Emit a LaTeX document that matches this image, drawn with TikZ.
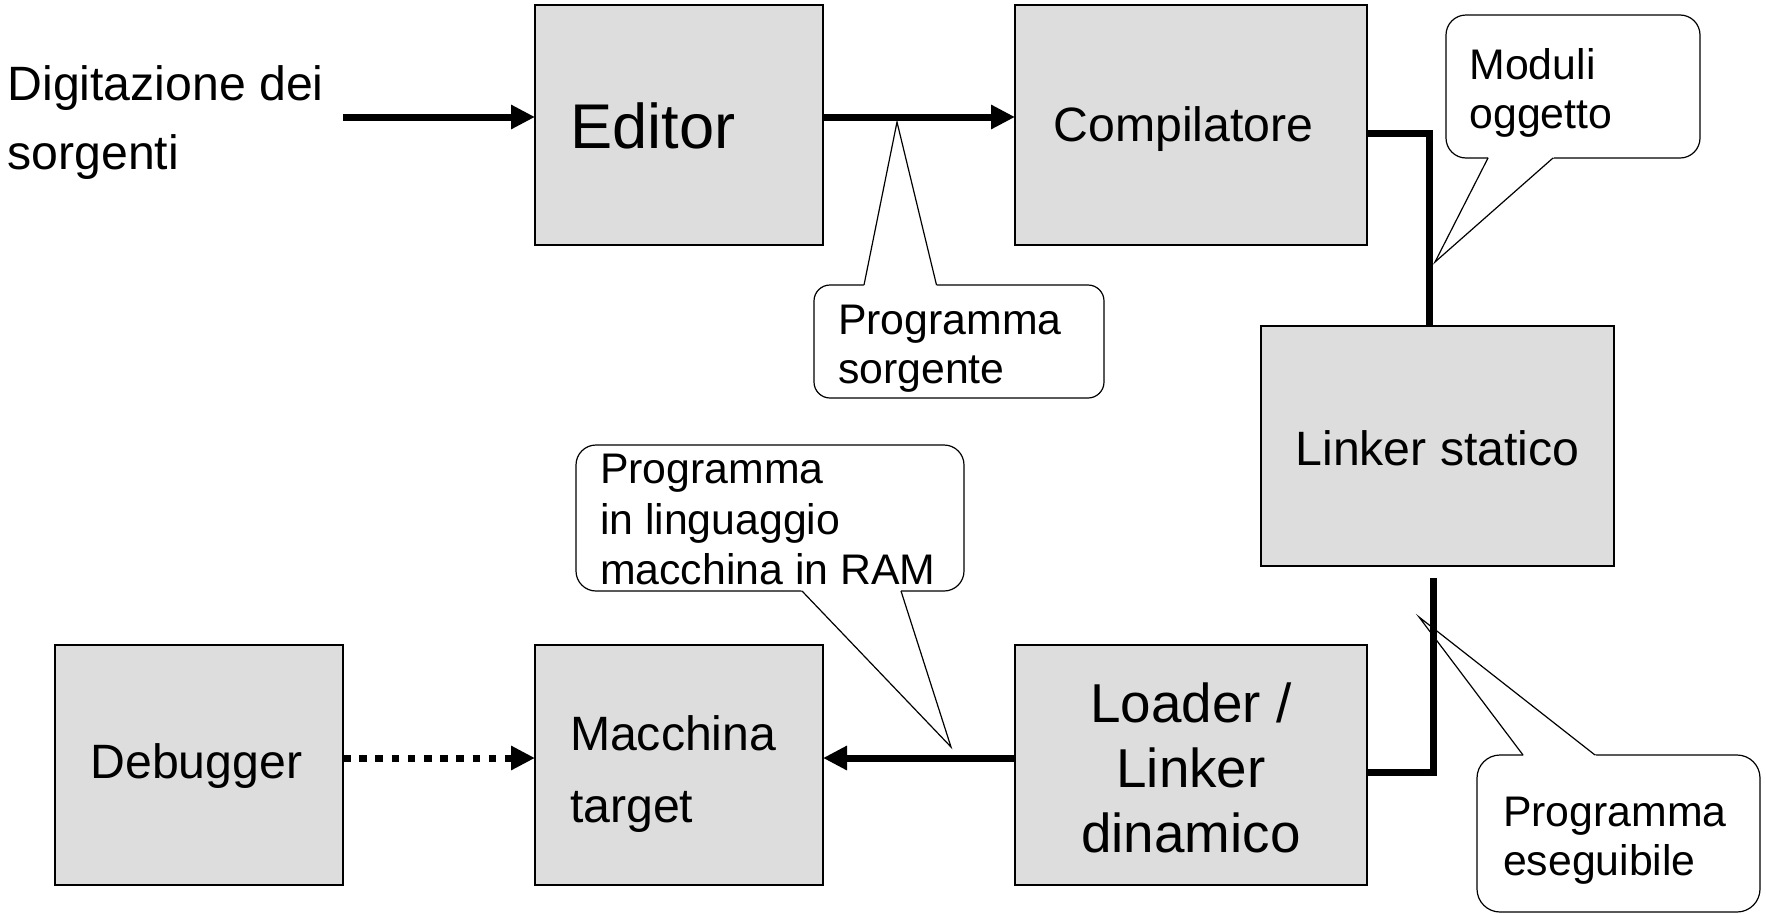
\documentclass[tikz,border=0pt]{standalone}
\usepackage{fontspec}
\setmainfont{Liberation Sans}
\usetikzlibrary{arrows.meta,calc}
\definecolor{boxgray}{RGB}{221,221,221}
\newcommand\fsN{\fontsize{48.2}{58}\selectfont}
\newcommand\fsE{\fontsize{63.2}{76}\selectfont}
\newcommand\fsL{\fontsize{54.8}{66}\selectfont}
\newcommand\fsC{\fontsize{42.8}{51}\selectfont}
\begin{document}
\begin{tikzpicture}[x=1pt,y=-1pt,
  box/.style={draw=black,line width=1.5pt,fill=boxgray,rectangle,inner sep=0pt,outer sep=0pt},
  callbox/.style={draw=black,line width=1.2pt,fill=white,rectangle,rounded corners=18pt,inner sep=0pt,outer sep=0pt},
  ptr/.style={draw=black,line width=1.2pt,line join=miter},
  txt/.style={anchor=base west,inner sep=0pt,outer sep=0pt},
  ctxt/.style={anchor=base,inner sep=0pt,outer sep=0pt},
  conn/.style={line width=7pt},
  arr/.style={-{Triangle[length=24pt,width=23pt]}},
  dots/.style={dash pattern=on 7.5pt off 8.7pt}
]
\useasboundingbox (0,0) rectangle (1766,913);
% boxes
\node[box,minimum width=288pt,minimum height=240pt] (editor) at (679,125) {};
\node[box,minimum width=352pt,minimum height=240pt] (comp) at (1191,125) {};
\node[box,minimum width=353pt,minimum height=240pt] (linker) at (1437.5,446) {};
\node[box,minimum width=352pt,minimum height=240pt] (loader) at (1191,765) {};
\node[box,minimum width=288pt,minimum height=240pt] (macchina) at (679,765) {};
\node[box,minimum width=288pt,minimum height=240pt] (debugger) at (199,765) {};

% callout: Programma sorgente
\node[callbox,minimum width=290pt,minimum height=113pt,rounded corners=16pt] (cSorg) at (959,341.5) {};
\coordinate (sA) at (864,285); \coordinate (sB) at (936.5,285); \coordinate (sT) at (897,122);
\fill[white] ($(sA)!-2.5pt!(sT)$) -- (sT) -- ($(sB)!-2.5pt!(sT)$) -- cycle;
\draw[ptr] (sA) -- (sT) -- (sB);
\node[txt,font=\fsC] (sL1) at (838,334) {Programma};
\node[txt,font=\fsC] (sL2) at (838,383) {sorgente};

% callout: Moduli oggetto
\node[callbox,minimum width=254pt,minimum height=143pt,rounded corners=20pt] (cMod) at (1573,86.5) {};
\coordinate (mA) at (1488,158); \coordinate (mB) at (1553,158); \coordinate (mT) at (1435,262);
\fill[white] ($(mA)!-2.5pt!(mT)$) -- (mT) -- ($(mB)!-2.5pt!(mT)$) -- cycle;
\draw[ptr] (mA) -- (mT) -- (mB);
\node[txt,font=\fsC] (mL1) at (1469.5,79) {Moduli};
\node[txt,font=\fsC] (mL2) at (1469.5,128) {oggetto};

% callout: Programma in linguaggio macchina in RAM
\node[callbox,minimum width=388pt,minimum height=146pt,rounded corners=20pt] (cRam) at (770,518) {};
\coordinate (rA) at (802,591); \coordinate (rB) at (901,591); \coordinate (rT) at (951,747);
\fill[white] ($(rA)!-2.5pt!(rT)$) -- (rT) -- ($(rB)!-2.5pt!(rT)$) -- cycle;
\draw[ptr] (rA) -- (rT) -- (rB);
\node[txt,font=\fsC] (rL1) at (600,483) {Programma};
\node[txt,font=\fsC] (rL2) at (600,534) {in linguaggio};
\node[txt,font=\fsC] (rL3) at (600,584) {macchina in RAM};

% callout: Programma eseguibile
\node[callbox,minimum width=283pt,minimum height=157pt,rounded corners=23pt] (cEse) at (1618.5,833.5) {};
\coordinate (eA) at (1523,755); \coordinate (eB) at (1595,755); \coordinate (eT) at (1419,617);
\fill[white] ($(eA)!-2.5pt!(eT)$) -- (eT) -- ($(eB)!-2.5pt!(eT)$) -- cycle;
\draw[ptr] (eA) -- (eT) -- (eB);
\node[txt,font=\fsC] (eL1) at (1503,826) {Programma};
\node[txt,font=\fsC] (eL2) at (1503,875) {eseguibile};

% connectors
\coordinate (inStart) at (343,117);
\draw[conn,arr] (inStart) -- ([yshift=8pt]editor.west);
\draw[conn,arr] ([yshift=8pt]editor.east) -- ([yshift=8pt]comp.west);
\draw[conn] ([yshift=-8pt]comp.east) -| ([xshift=-8pt]linker.north);
\coordinate (lkOut) at (1433.5,578);
\draw[conn] (lkOut) |- ([yshift=-7.5pt]loader.east);
\draw[conn,arr] ([yshift=7pt]loader.west) -- ([yshift=7pt]macchina.east);
\draw[conn,dots,arr] ([yshift=7pt]debugger.east) -- ([yshift=7pt]macchina.west);

% box texts
\node[txt,font=\fsN] (tDig1) at (7.5,100.5) {Digitazione dei};
\node[txt,font=\fsN] (tDig2) at (7.5,169) {sorgenti};
\node[txt,font=\fsE] (tEditor) at (570.5,148) {Editor};
\node[txt,font=\fsN] (tComp) at (1053.5,141) {Compilatore};
\node[txt,font=\fsN] (tLinker) at (1295.5,465) {Linker statico};
\node[ctxt,font=\fsL] (tLoad1) at (1191,722) {Loader /};
\node[ctxt,font=\fsL] (tLoad2) at (1191,787) {Linker};
\node[ctxt,font=\fsL] (tLoad3) at (1191,852) {dinamico};
\node[txt,font=\fsN] (tMac1) at (570,750) {Macchina};
\node[txt,font=\fsN] (tMac2) at (570,822) {target};
\node[txt,font=\fsN] (tDbg) at (90.5,778) {Debugger};
\end{tikzpicture}
\end{document}
